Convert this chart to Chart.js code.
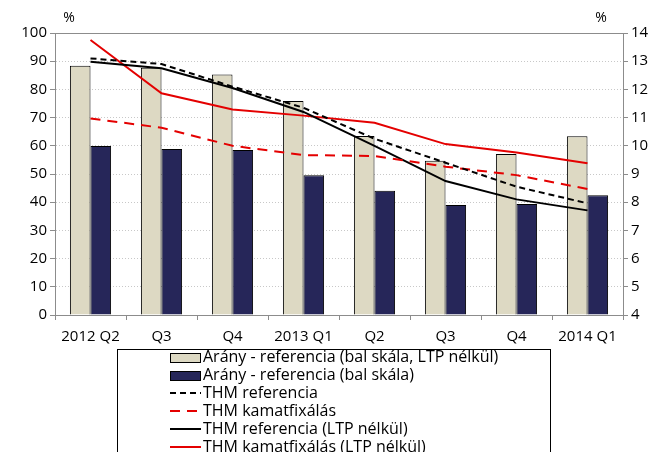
<!DOCTYPE html>
<html>
<head>
<meta charset="utf-8">
<script src="https://cdn.jsdelivr.net/npm/chart.js@4"></script>
<style>
  html, body { margin: 0; padding: 0; background: #fff; }
  #wrap { width: 659px; height: 452px; }
</style>
</head>
<body>
<div id="wrap"><canvas id="chart" width="659" height="452"></canvas></div>
<script>
// categories
const quarters = ['2012 Q2', 'Q3', 'Q4', '2013 Q1', 'Q2', 'Q3', 'Q4', '2014 Q1'];

// bars (left scale, %)
const aranyLtpNelkul = [88.4, 87.7, 85.3, 75.9, 63.5, 54.7, 57.1, 63.4];
const aranyReferencia = [59.9, 58.9, 58.5, 49.6, 44.1, 39.0, 39.4, 42.5];

// lines (right scale, %)
const thmReferencia = [13.1, 12.9, 12.1, 11.35, 10.25, 9.4, 8.55, 7.96];
const thmKamatfix = [10.97, 10.64, 10.0, 9.67, 9.64, 9.26, 8.96, 8.47];
const thmReferenciaLtp = [12.98, 12.75, 12.05, 11.2, 10.0, 8.75, 8.1, 7.71];
const thmKamatfixLtp = [13.75, 11.86, 11.29, 11.07, 10.82, 10.06, 9.76, 9.38];

// tick labels
const leftTicks = [0, 10, 20, 30, 40, 50, 60, 70, 80, 90, 100];
const rightTicks = [4, 5, 6, 7, 8, 9, 10, 11, 12, 13, 14];

const FONT = '"Open Sans", sans-serif';
const red = 'rgb(228, 0, 0)';

// draws the frame, the "%" labels and the boxed legend below the plot
const extras = {
    id: 'extras',
    afterDraw(chart) {
        const c = chart.ctx;
        const a = chart.chartArea;
        c.save();
        c.strokeStyle = '#8c8c8c';
        c.lineWidth = 1;
        c.strokeRect(a.left + 0.5, a.top + 0.5, a.right - a.left, a.bottom - a.top);

        c.fillStyle = '#000';
        c.font = '14px ' + FONT;
        c.textBaseline = 'middle';
        c.textAlign = 'center';
        c.fillText('%', 69, 18);
        c.fillText('%', 601, 18);

        // legend
        c.strokeStyle = '#000';
        c.strokeRect(117.5, 349.5, 433, 120);
        const items = chart.data.datasets;
        c.font = '16px ' + FONT;
        c.textAlign = 'left';
        items.forEach((ds, i) => {
            const y = 357 + i * 18;
            if (ds.type === 'bar') {
                c.fillStyle = ds.backgroundColor;
                c.fillRect(170, y - 4, 30, 9);
                c.strokeStyle = '#000';
                c.lineWidth = 1;
                c.strokeRect(170.5, y - 3.5, 30, 9);
            } else {
                c.strokeStyle = ds.borderColor;
                c.lineWidth = 2;
                c.setLineDash(ds.borderDash || []);
                c.beginPath();
                c.moveTo(170, y);
                c.lineTo(201, y);
                c.stroke();
                c.setLineDash([]);
            }
            c.fillStyle = '#000';
            c.fillText(ds.label, 203, y);
        });
        c.restore();
    }
};

new Chart(document.getElementById('chart'), {
    data: {
        labels: quarters,
        datasets: [
            {
                type: 'bar',
                label: 'Arány - referencia (bal skála, LTP nélkül)',
                data: aranyLtpNelkul,
                backgroundColor: '#ddd9c3',
                borderColor: '#000',
                borderWidth: 1,
                yAxisID: 'y',
                order: 2
            },
            {
                type: 'bar',
                label: 'Arány - referencia (bal skála)',
                data: aranyReferencia,
                backgroundColor: '#262659',
                borderColor: '#000',
                borderWidth: 1,
                yAxisID: 'y',
                order: 2
            },
            {
                type: 'line',
                label: 'THM referencia',
                data: thmReferencia,
                borderColor: '#000',
                borderWidth: 2,
                borderDash: [6, 4],
                pointRadius: 0,
                yAxisID: 'y1',
                order: 1
            },
            {
                type: 'line',
                label: 'THM kamatfixálás',
                data: thmKamatfix,
                borderColor: red,
                borderWidth: 2,
                borderDash: [10, 7],
                pointRadius: 0,
                yAxisID: 'y1',
                order: 1
            },
            {
                type: 'line',
                label: 'THM referencia (LTP nélkül)',
                data: thmReferenciaLtp,
                borderColor: '#000',
                borderWidth: 2,
                pointRadius: 0,
                yAxisID: 'y1',
                order: 1
            },
            {
                type: 'line',
                label: 'THM kamatfixálás (LTP nélkül)',
                data: thmKamatfixLtp,
                borderColor: red,
                borderWidth: 2,
                pointRadius: 0,
                yAxisID: 'y1',
                order: 1
            }
        ]
    },
    options: {
        responsive: false,
        animation: false,
        layout: { padding: { top: 33, bottom: 107, left: 0, right: 0 } },
        datasets: {
            bar: { categoryPercentage: 0.58, barPercentage: 1 }
        },
        scales: {
            x: {
                offset: true,
                grid: {
                    offset: true,
                    drawOnChartArea: false,
                    tickLength: 5,
                    tickColor: '#8c8c8c'
                },
                border: { color: '#8c8c8c' },
                ticks: {
                    color: '#000',
                    font: { family: FONT, size: 15 },
                    padding: 8,
                    maxRotation: 0,
                    autoSkip: false
                },
                afterFit(axis) { axis.height = 30; }
            },
            y: {
                position: 'left',
                min: 0,
                max: 100,
                afterBuildTicks(axis) { axis.ticks = leftTicks.map(v => ({ value: v })); },
                grid: {
                    color: '#c8c8c8',
                    tickLength: 5,
                    tickColor: '#8c8c8c',
                    tickBorderDash: []
                },
                border: { color: '#8c8c8c', dash: [1, 2] },
                ticks: {
                    color: '#000',
                    font: { family: FONT, size: 15 },
                    padding: 3
                },
                afterFit(axis) { axis.width = 55; }
            },
            y1: {
                position: 'right',
                min: 4,
                max: 14,
                afterBuildTicks(axis) { axis.ticks = rightTicks.map(v => ({ value: v })); },
                grid: {
                    drawOnChartArea: false,
                    tickLength: 5,
                    tickColor: '#8c8c8c'
                },
                border: { color: '#8c8c8c' },
                ticks: {
                    color: '#000',
                    font: { family: FONT, size: 15 },
                    padding: 3
                },
                afterFit(axis) { axis.width = 36; }
            }
        },
        plugins: {
            legend: { display: false },
            tooltip: { enabled: false }
        }
    },
    plugins: [extras]
});
</script>
</body>
</html>
